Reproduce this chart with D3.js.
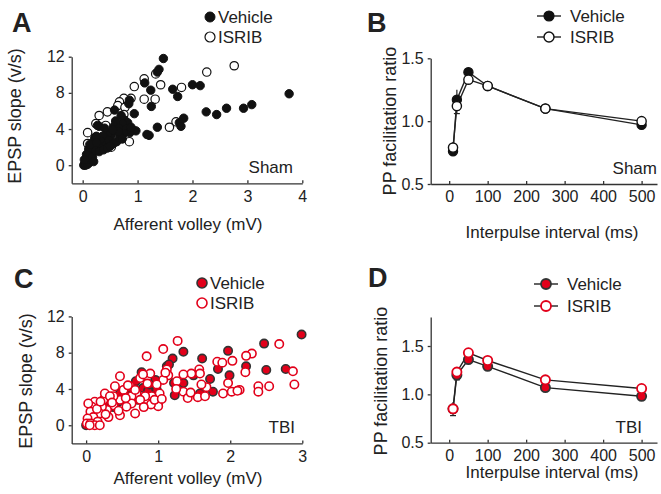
<!doctype html>
<html>
<head>
<meta charset="utf-8">
<style>
  body { margin: 0; background: #fff; }
  svg text { font-family: "Liberation Sans", Arial, sans-serif; fill: #222; }
  .axis path, .axis line { stroke: #333; stroke-width: 1.3; }
</style>
<script src="https://d3js.org/d3.v7.min.js"></script>
</head>
<body>
<svg width="661" height="494"></svg>
<script>
// ---- data ----
// scatter: [afferent volley (mV), EPSP slope (v/s)]
var shamVehicle = [
  [1.47,11.8],[1.39,10.6],[1.36,10.3],[1.13,9.1],[1.24,8.3],[1.64,8.4],[1.73,7.6],[2.0,8.9],[2.14,8.8],[3.76,7.9],
  [1.25,6.5],[0.85,7.2],[0.84,6.8],[0.58,6.1],[1.84,5.2],[1.76,4.7],[1.79,4.3],[1.36,4.2],[1.21,3.3],[1.17,3.4],
  [2.25,5.9],[2.44,5.6],[2.62,6.3],[2.93,6.3],[3.08,6.7],[0.94,5.7],[0.91,3.9],[0.97,3.8],
  [0.76,5.0],[0.82,4.7],[0.72,4.6],[0.60,4.9],[0.57,4.3],[0.66,4.1],[0.80,4.0],[0.86,3.6],[0.75,3.5],[0.68,3.2],
  [0.62,2.6],[0.72,2.9],[0.52,3.3],[0.46,3.5],[0.40,3.0],[0.36,3.2],[0.34,2.6],[0.42,2.2],[0.48,2.7],[0.56,2.4],
  [0.30,4.3],[0.27,4.4],[0.34,1.8],[0.28,2.1],[0.22,3.0],[0.20,2.6],[0.25,3.2],[0.18,2.2],[0.15,1.8],[0.12,1.4],
  [0.10,1.0],[0.08,0.7],[0.06,0.4],[0.04,0.2],[0.02,0.0],[0.05,0.0],[0.09,0.1],[0.12,0.3],[0.14,0.6],[0.16,1.2],
  [0.11,1.8],[0.07,1.2],[0.03,0.6],[0.18,0.9],[0.24,1.6],[0.30,1.5],[0.38,1.7],[0.20,0.4],[0.13,2.3],[0.25,2.5],
  [0.45,1.9],[0.65,3.7],[0.70,5.5],[0.55,3.9],[0.88,4.2],[0.50,2.1],[0.40,4.1]
];
var shamIsrib = [
  [2.76,11.0],[2.26,10.3],[1.12,9.55],[1.33,10.1],[1.42,8.9],[0.94,8.7],[1.12,7.3],[1.32,7.3],[1.8,8.6],[0.88,7.4],
  [0.75,7.4],[0.67,7.0],[0.64,6.6],[0.45,5.9],[0.30,5.5],[0.24,4.6],[0.09,3.6],[1.7,4.8],[1.58,4.2],[0.85,2.6],
  [0.70,3.1],[0.61,3.9],[0.52,2.0],[0.36,2.8],[0.18,1.7],[0.09,2.4],[0.24,3.1],[0.42,4.4],[0.77,6.4],[0.75,5.6]
];
var tbiVehicle = [
  [2.99,10.0],[2.47,9.0],[1.97,8.2],[1.35,8.1],[1.20,7.35],[1.61,7.35],[1.12,6.5],[1.15,6.7],[2.22,6.5],[1.83,6.2],
  [2.50,6.1],[2.77,6.2],[1.99,5.5],[1.72,5.1],[1.49,5.5],[1.22,4.65],[1.30,4.6],[1.35,4.65],[1.76,3.7],[1.23,3.3],
  [1.58,3.5],[0.96,5.0],[0.98,3.9],[0.98,3.2],[0.77,5.85],[0.79,4.1],[0.66,4.3],[0.69,4.85],
  [0.59,3.5],[0.52,3.0],[0.45,2.6],[0.38,2.0],[0.29,2.0],[0.19,1.7],[0.12,1.1],[0.06,0.5],[0.0,0.0],[0.47,3.5],
  [0.61,2.4],[0.70,3.2],[0.30,3.0],[0.25,2.5],[0.55,4.0],[0.86,3.8],[0.88,4.5],[0.72,2.8],[0.40,2.3],[0.13,0.3]
];
var tbiIsrib = [
  [1.27,9.3],[1.07,8.4],[2.68,8.95],[0.84,7.6],[2.30,7.9],[2.22,7.65],[1.82,7.0],[1.89,6.9],[2.03,7.1],[0.47,5.4],
  [1.57,6.15],[1.58,5.7],[1.46,5.7],[1.35,5.6],[2.21,5.85],[2.87,5.95],[1.12,6.15],[1.14,5.5],[1.07,5.0],[0.89,5.7],
  [0.75,5.2],[0.79,5.6],[1.67,4.2],[1.60,4.5],[1.97,4.65],[2.13,3.9],[2.02,3.7],[1.90,3.5],[2.39,4.3],[2.39,3.7],
  [2.54,4.3],[2.89,4.5],[1.35,3.7],[1.41,3.0],[1.55,3.1],[1.65,3.2],[1.26,4.85],[0.98,4.5],[1.02,3.5],[0.91,3.2],
  [1.0,2.4],[1.0,2.1],[0.82,3.2],[0.70,3.5],[0.63,3.2],[0.63,2.4],[0.56,2.05],[0.47,2.8],[0.38,3.2],[0.38,2.2],
  [0.29,1.7],[0.31,0.9],[0.22,2.05],[0.19,1.3],[0.12,2.6],[0.08,2.05],[0.03,2.4],[0.06,1.5],[0.10,0.9],[0.16,0.4],
  [0.02,0.75],[0.01,0.2],[0.06,0.2],[0.12,0.0],[0.19,0.0],[0.47,1.1],[0.68,1.3],[0.40,4.3],[0.52,3.9],[0.61,4.3],
  [0.24,2.8],[0.26,3.5],[0.33,3.2],[0.9,2.3],[0.95,2.8],[1.05,2.9],[0.75,2.8],[0.85,4.6],[0.68,3.9],[0.55,3.0],
  [0.45,1.6],[0.36,2.5],[0.15,1.8],[0.2,2.6],[0.27,1.2],[1.1,5.8],[0.58,4.4],[1.25,4.0],[1.45,3.6],[2.1,3.8],
  [0.8,2.0],[0.05,0.0]
];

// paired-pulse facilitation
var intervals = [10, 20, 50, 100, 250, 500];
var shamVehPPF   = [0.76, 1.17, 1.39, 1.28, 1.10, 0.97];
var shamVehErr   = [0.02, 0.08, 0.03, 0.02, 0.02, 0.02];
var shamIsribPPF = [0.79, 1.12, 1.33, 1.28, 1.10, 1.00];
var shamIsribErr = [0.045, 0.06, 0.03, 0.02, 0.02, 0.02];
var tbiVehPPF    = [0.85, 1.20, 1.36, 1.29, 1.07, 0.98];
var tbiVehErr    = [0.07, 0.05, 0.03, 0.02, 0.02, 0.02];
var tbiIsribPPF  = [0.85, 1.23, 1.43, 1.35, 1.15, 1.06];
var tbiIsribErr  = [0.03, 0.03, 0.02, 0.02, 0.02, 0.02];

var slopeTicks = [0, 4, 8, 12];
var volleyTicksA = [0, 1, 2, 3, 4];
var volleyTicksC = [0, 1, 2, 3];
var ppfTicks = [0.5, 1.0, 1.5];
var intervalTicks = [0, 100, 200, 300, 400, 500];

var RED = "#e2001a";
var svg = d3.select("svg");

// styles for the 4 groups
var sty = {
  shamVeh:  { fill: "#111", stroke: "#111", sw: 1 },
  shamIsr:  { fill: "#fff", stroke: "#111", sw: 1.2 },
  tbiVeh:   { fill: RED, stroke: "#333", sw: 1.6 },
  tbiIsr:   { fill: "#fff", stroke: RED, sw: 1.6 }
};

function drawAxes(x, y, xTicks, yTicks, xFmt, yFmt) {
  svg.append("g").attr("class", "axis")
    .attr("transform", "translate(" + x.range()[0] + ",0)")
    .call(d3.axisLeft(y).tickValues(yTicks).tickSize(3).tickSizeOuter(0).tickPadding(4).tickFormat(yFmt));
  svg.append("g").attr("class", "axis")
    .attr("transform", "translate(0," + y.range()[0] + ")")
    .call(d3.axisBottom(x).tickValues(xTicks).tickSize(-3).tickSizeOuter(0).tickPadding(7).tickFormat(xFmt));
  svg.selectAll(".axis").attr("font-size", 16).attr("font-family", null);
  svg.selectAll(".axis text").attr("fill", "#222");
}

function label(txt, x, y, opts) {
  opts = opts || {};
  var t = svg.append("text").attr("x", x).attr("y", y).text(txt)
    .attr("font-size", opts.size || 17)
    .attr("text-anchor", opts.anchor || "start");
  if (opts.bold) t.attr("font-weight", "bold");
  if (opts.rot) t.attr("transform", "rotate(-90," + x + "," + y + ")");
  return t;
}

function scatterPanel(o) {
  var x = d3.scaleLinear().domain(o.xDomain).range(o.xRange);
  var y = d3.scaleLinear().domain([-2, 12]).range(o.yRange);
  drawAxes(x, y, o.xTicks, slopeTicks, d3.format("d"), d3.format("d"));

  o.series.forEach(function (s) {
    svg.append("g").selectAll("circle").data(s.data).enter().append("circle")
      .attr("cx", function (d) { return x(d[0]); })
      .attr("cy", function (d) { return y(d[1]); })
      .attr("r", 4.2)
      .attr("fill", s.st.fill).attr("stroke", s.st.stroke).attr("stroke-width", s.st.sw);
  });

  // legend
  o.legend.forEach(function (l) {
    svg.append("circle").attr("cx", l.cx).attr("cy", l.cy).attr("r", 5)
      .attr("fill", l.st.fill).attr("stroke", l.st.stroke).attr("stroke-width", l.st.sw);
    label(l.text, l.cx + 8, l.cy + 6);
  });

  label(o.letter, o.letterPos[0], o.letterPos[1], { size: 27, bold: true });
  label(o.tag, o.tagPos[0], o.tagPos[1], { anchor: "end" });
  label("Afferent volley (mV)", o.xTitle[0], o.xTitle[1], { anchor: "middle" });
  label("EPSP slope (v/s)", o.yTitle[0], o.yTitle[1], { anchor: "middle", rot: true, size: 18 });
}

function ppfPanel(o) {
  var x = d3.scaleLinear().domain([-48, 540]).range([430.7, 657]);
  var y = d3.scaleLinear().domain(o.yDomain).range(o.yRange);
  drawAxes(x, y, intervalTicks, ppfTicks, d3.format("d"), d3.format(".1f"));

  var line = d3.line().x(function (d) { return x(d[0]); }).y(function (d) { return y(d[1]); });

  o.series.forEach(function (s) {
    var pts = intervals.map(function (t, i) { return [t, s.vals[i], s.err[i]]; });
    var g = svg.append("g");
    g.selectAll("line.eb").data(pts).enter().append("line")
      .attr("x1", function (d) { return x(d[0]); }).attr("x2", function (d) { return x(d[0]); })
      .attr("y1", function (d) { return y(d[1] - d[2]); }).attr("y2", function (d) { return y(d[1] + d[2]); })
      .attr("stroke", "#222").attr("stroke-width", 1.2);
    g.selectAll("line.cap").data(pts).enter().append("line")
      .attr("x1", function (d) { return x(d[0]) - 3; }).attr("x2", function (d) { return x(d[0]) + 3; })
      .attr("y1", function (d) { return y(d[1] - d[2]); }).attr("y2", function (d) { return y(d[1] - d[2]); })
      .attr("stroke", "#222").attr("stroke-width", 1.2);
    g.append("path").datum(pts).attr("d", line)
      .attr("fill", "none").attr("stroke", "#222").attr("stroke-width", 1.4);
  });
  o.series.forEach(function (s) {
    var pts = intervals.map(function (t, i) { return [t, s.vals[i]]; });
    svg.append("g").selectAll("circle").data(pts).enter().append("circle")
      .attr("cx", function (d) { return x(d[0]); })
      .attr("cy", function (d) { return y(d[1]); })
      .attr("r", 4.6)
      .attr("fill", s.st.fill).attr("stroke", s.st.stroke).attr("stroke-width", s.st.sw + 0.2);
  });

  o.legend.forEach(function (l) {
    svg.append("line").attr("x1", l.cx - 12).attr("x2", l.cx + 12).attr("y1", l.cy).attr("y2", l.cy)
      .attr("stroke", "#222").attr("stroke-width", 1.4);
    svg.append("circle").attr("cx", l.cx).attr("cy", l.cy).attr("r", 5)
      .attr("fill", l.st.fill).attr("stroke", l.st.stroke).attr("stroke-width", l.st.sw + 0.2);
    label(l.text, l.cx + 21, l.cy + 6);
  });

  label(o.letter, o.letterPos[0], o.letterPos[1], { size: 27, bold: true });
  label(o.tag, o.tagPos[0], o.tagPos[1], { anchor: "end" });
  label("Interpulse interval (ms)", 552, o.xTitleY, { anchor: "middle" });
  label("PP facilitation ratio", o.yTitle[0], o.yTitle[1], { anchor: "middle", rot: true, size: 18 });
}

// A
scatterPanel({
  xDomain: [-0.2, 4], xRange: [71.7, 302.3], yRange: [183.3, 56.7], xTicks: volleyTicksA,
  series: [{ data: shamIsrib, st: sty.shamIsr }, { data: shamVehicle, st: sty.shamVeh }],
  legend: [{ text: "Vehicle", cx: 210, cy: 17, st: sty.shamVeh }, { text: "ISRIB", cx: 210, cy: 37, st: sty.shamIsr }],
  letter: "A", letterPos: [12, 32], tag: "Sham", tagPos: [293, 173],
  xTitle: [188, 230], yTitle: [21, 116]
});

// B
ppfPanel({
  yDomain: [0.5, 1.5], yRange: [184, 58.3],
  series: [{ vals: shamVehPPF, err: shamVehErr, st: sty.shamVeh }, { vals: shamIsribPPF, err: shamIsribErr, st: sty.shamIsr }],
  legend: [{ text: "Vehicle", cx: 549, cy: 16, st: sty.shamVeh }, { text: "ISRIB", cx: 549, cy: 37, st: sty.shamIsr }],
  letter: "B", letterPos: [367, 32], tag: "Sham", tagPos: [657, 174],
  xTitleY: 238, yTitle: [396, 121]
});

// C
scatterPanel({
  xDomain: [-0.2, 3], xRange: [71.7, 302.3], yRange: [443.4, 316.4], xTicks: volleyTicksC,
  series: [{ data: tbiVehicle, st: sty.tbiVeh }, { data: tbiIsrib, st: sty.tbiIsr }],
  legend: [{ text: "Vehicle", cx: 202, cy: 283, st: sty.tbiVeh }, { text: "ISRIB", cx: 202, cy: 303, st: sty.tbiIsr }],
  letter: "C", letterPos: [14, 288], tag: "TBI", tagPos: [295, 433],
  xTitle: [188, 484], yTitle: [32, 381]
});

// D
ppfPanel({
  yDomain: [0.5, 1.8], yRange: [442.7, 317],
  series: [{ vals: tbiVehPPF, err: tbiVehErr, st: sty.tbiVeh }, { vals: tbiIsribPPF, err: tbiIsribErr, st: sty.tbiIsr }],
  legend: [{ text: "Vehicle", cx: 546, cy: 284, st: sty.tbiVeh }, { text: "ISRIB", cx: 546, cy: 306, st: sty.tbiIsr }],
  letter: "D", letterPos: [368, 287], tag: "TBI", tagPos: [642, 433],
  xTitleY: 478, yTitle: [387, 381]
});
</script>
</body>
</html>
